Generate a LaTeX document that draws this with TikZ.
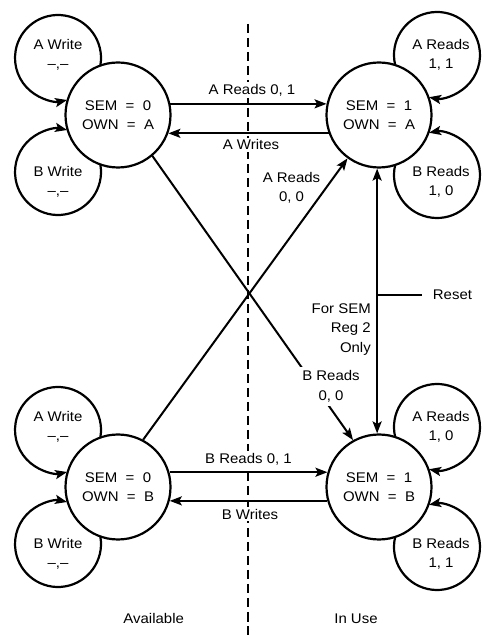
\documentclass[tikz,border=0pt]{standalone}
\usepackage{fontspec}
\setmainfont{Liberation Sans}[FakeStretch=1.07]
\usetikzlibrary{arrows.meta,calc}
\begin{document}
\begin{tikzpicture}[x=1pt,y=1pt,
  every node/.style={font=\fontsize{14}{19.5}\selectfont, inner sep=0pt},
  st/.style={circle, draw, line width=2.2pt, minimum size=105pt, align=center},
  lbl/.style={align=center},
  wlbl/.style={align=center, fill=white, inner sep=2pt},
  tip/.style={-{Stealth[length=12pt,width=9pt,inset=2.5pt]}},
  conn/.style={line width=2pt, tip},
  loopline/.style={line width=2.2pt, tip},
  divider/.style={line width=2pt, dash pattern=on 9.5pt off 4.5pt}
]
\useasboundingbox (0,0) rectangle (483,635);

% divider
\coordinate (dtop) at (248,611);
\coordinate (dbot) at (248,0);
\draw[divider] (dtop) -- (dbot);

% states
\node[st] (tl) at (118,520) {SEM\ \ =\ \ 0\\OWN\ \ =\ \ A};
\node[st] (tr) at (379,520) {SEM\ \ =\ \ 1\\OWN\ \ =\ \ A};
\node[st] (bl) at (118,148) {SEM\ \ =\ \ 0\\OWN\ \ =\ \ B};
\node[st] (br) at (379,148) {SEM\ \ =\ \ 1\\OWN\ \ =\ \ B};

% self loops, left states
\draw[loopline] ($(tl)+(-60,57)+(-9.37:43)$) arc[start angle=-9.37, end angle=282.31, radius=43];
\draw[loopline] ($(tl)+(-60,-57)+(9.37:43)$) arc[start angle=9.37, end angle=-282.31, radius=43];
\draw[loopline] ($(bl)+(-60,57)+(-9.37:43)$) arc[start angle=-9.37, end angle=282.31, radius=43];
\draw[loopline] ($(bl)+(-60,-57)+(9.37:43)$) arc[start angle=9.37, end angle=-282.31, radius=43];
% self loops, right states
\draw[loopline] ($(tr)+(58,60)+(192.75:43)$) arc[start angle=192.75, end angle=-100.81, radius=43];
\draw[loopline] ($(tr)+(58,-60)+(-192.75:43)$) arc[start angle=-192.75, end angle=100.81, radius=43];
\draw[loopline] ($(br)+(58,60)+(192.75:43)$) arc[start angle=192.75, end angle=-100.81, radius=43];
\draw[loopline] ($(br)+(58,-60)+(-192.75:43)$) arc[start angle=-192.75, end angle=100.81, radius=43];

% loop labels
\node[lbl] (tlA) at ($(tl)+(-60,60)$) {A Write\\--,--};
\node[lbl] (tlB) at ($(tl)+(-60,-67)$) {B Write\\--,--};
\node[lbl] (blA) at ($(bl)+(-60,60)$) {A Write\\--,--};
\node[lbl] (blB) at ($(bl)+(-60,-67)$) {B Write\\--,--};
\node[lbl] (trA) at ($(tr)+(62,60)$) {A Reads\\1, 1};
\node[lbl] (trB) at ($(tr)+(62,-67)$) {B Reads\\1, 0};
\node[lbl] (brA) at ($(br)+(62,60)$) {A Reads\\1, 0};
\node[lbl] (brB) at ($(br)+(62,-67)$) {B Reads\\1, 1};

% horizontal transitions
\draw[conn] (tl.12) -- (tr.168);
\draw[conn] (tr.-160) -- (tl.-20);
\draw[conn] (bl.16) -- (br.164);
\draw[conn] (br.-165) -- (bl.-15);
\node[wlbl] (l1) at (252,545) {A Reads 0, 1};
\node[wlbl] (l2) at (251,490) {A Writes};
\node[wlbl] (l3) at (248.5,176) {B Reads 0, 1};
\node[wlbl] (l4) at (250,121) {B Writes};

% diagonal transitions
\draw[conn] (bl.62) -- (tr.234);
\draw[conn] (tl.-50) -- (br.119);
\node[lbl] (l5) at (291.5,447) {A Reads\\0, 0};
\node[wlbl, inner sep=4pt] (l6) at (331,248.5) {B Reads\\0, 0};

% reset
\draw[line width=2pt, {Stealth[length=12pt,width=9pt,inset=2.5pt]}-{Stealth[length=12pt,width=9pt,inset=2.5pt]}] (tr.-92) -- (br.92);
\coordinate (rj) at (tr.-92 |- 0,340);
\node[anchor=west, inner xsep=11pt] (reset) at (421.7,340) {Reset};
\draw[line width=1.4pt] (rj) -- (reset.west);
\node[lbl, align=right, anchor=east] (l7) at (371,305.5) {For SEM\\Reg 2\\Only};

% region labels
\node (avail) at (153.7,17) {Available};
\node (inuse) at (356,16) {In Use};
\end{tikzpicture}
\end{document}
